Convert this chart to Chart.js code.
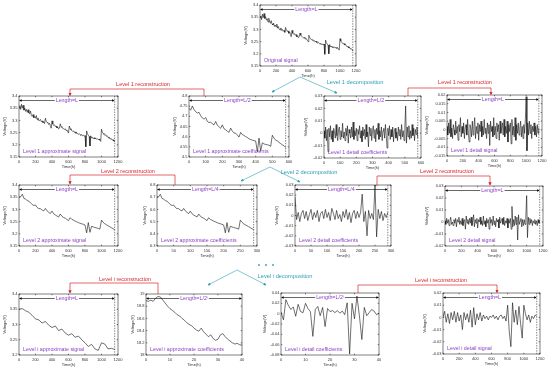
<!DOCTYPE html>
<html>
<head>
<meta charset="utf-8">
<script src="https://cdn.jsdelivr.net/npm/chart.js@4.4.1/dist/chart.umd.min.js"></script>
<style>
  html, body { margin: 0; padding: 0; background: #fff; }
  #page { position: relative; width: 550px; height: 368px; overflow: hidden; background: #fff;
          font-family: "Liberation Sans", Arial, sans-serif; }
  #page canvas { position: absolute; }
  #links { position: absolute; left: 0; top: 0; z-index: 5; }
  .note { position: absolute; white-space: nowrap; font-size: 11px; line-height: 11px;
          transform: translate(-50%, -50%) scale(0.5); z-index: 6; }
  .red { color: #d8262b; }
  .teal { color: #2c9fb4; font-size: 11.4px; }
</style>
</head>
<body>
<div id="page">

<svg id="links" width="550" height="368" viewBox="0 0 550 368">
  <defs>
    <marker id="redHead" viewBox="0 0 6 6" refX="5" refY="3" markerUnits="userSpaceOnUse" markerWidth="3.4" markerHeight="3.4" orient="auto">
      <path d="M0,0 L6,3 L0,6 z" fill="#d8262b"/>
    </marker>
    <marker id="tealHead" viewBox="0 0 6 6" refX="5" refY="3" markerUnits="userSpaceOnUse" markerWidth="3" markerHeight="3" orient="auto">
      <path d="M0,0 L6,3 L0,6 z" fill="#2c9fb4"/>
    </marker>
  </defs>
  <g fill="none" stroke="#d8262b" stroke-width="0.7">
    <path d="M204,96 V89 H70 V95.5" marker-end="url(#redHead)"/>
    <path d="M408,96 V88 H491 V94.5" marker-end="url(#redHead)"/>
    <path d="M175,185 V175 H70 V184" marker-end="url(#redHead)"/>
    <path d="M377,186 V176 H490 V185" marker-end="url(#redHead)"/>
    <path d="M158,294 V283 H70 V293" marker-end="url(#redHead)"/>
    <path d="M358,293 V285 H497 V292.5" marker-end="url(#redHead)"/>
  </g>
  <g fill="none" stroke="#2c9fb4" stroke-width="0.6">
    <path d="M300,77 L272,92" marker-end="url(#tealHead)"/>
    <path d="M300,77 L337,93" marker-end="url(#tealHead)"/>
    <path d="M270,167 L241,181" marker-end="url(#tealHead)"/>
    <path d="M270,167 L300,182" marker-end="url(#tealHead)"/>
    <path d="M237,270 L208,285" marker-end="url(#tealHead)"/>
    <path d="M237,270 L266,285" marker-end="url(#tealHead)"/>
  </g>
  <g fill="#2c9fb4">
    <circle cx="259" cy="265" r="0.9"/>
    <circle cx="266" cy="265" r="0.9"/>
    <circle cx="273" cy="265" r="0.9"/>
  </g>
</svg>

<div class="note red" style="left:143px;top:84px">Level 1 reconstruction</div>
<div class="note red" style="left:465px;top:82px">Level 1 reconstruction</div>
<div class="note red" style="left:128px;top:171px">Level 2 reconstruction</div>
<div class="note red" style="left:447px;top:171px">Level 2 reconstruction</div>
<div class="note red" style="left:125px;top:279px">Level i reconstruction</div>
<div class="note red" style="left:441px;top:280px">Level i reconstruction</div>
<div class="note teal" style="left:355px;top:82px">Level 1 decomposition</div>
<div class="note teal" style="left:309px;top:172px">Level 2 decomposition</div>
<div class="note teal" style="left:285px;top:276px">Level i decomposition</div>

</div>

<script>

/* =========================
DATA
========================= */

// original voltage, one value every 10 h
const ORIG = [
    3.350, 3.355, 3.340, 3.362, 3.348, 3.365, 3.345, 3.352, 3.338, 3.344,
    3.330, 3.346, 3.332, 3.325, 3.336, 3.322, 3.318, 3.326, 3.312, 3.318,
    3.310, 3.322, 3.305, 3.312, 3.300, 3.298, 3.306, 3.296, 3.300, 3.292,
    3.296, 3.288, 3.308, 3.298, 3.292, 3.294, 3.284, 3.290, 3.280, 3.270,
    3.296, 3.284, 3.280, 3.283, 3.276, 3.279, 3.270, 3.274, 3.266, 3.270,
    3.285, 3.276, 3.272, 3.270, 3.266, 3.264, 3.268, 3.260, 3.262, 3.256,
    3.250, 3.276, 3.268, 3.262, 3.260, 3.256, 3.258, 3.252, 3.254, 3.248,
    3.252, 3.246, 3.244, 3.247, 3.242, 3.240, 3.243, 3.238, 3.240, 3.236,
    3.240, 3.198, 3.256, 3.246, 3.240, 3.236, 3.200, 3.238, 3.228, 3.232,
    3.226, 3.230, 3.225, 3.228, 3.224, 3.226, 3.222, 3.225, 3.220, 3.215,
    3.262, 3.252, 3.248, 3.244, 3.240, 3.242, 3.236, 3.238, 3.232, 3.228,
    3.230, 3.224, 3.226, 3.220, 3.222, 3.216, 3.214
];

// level 1 approximate signal, every 10 h
const L1_APPROX_SIG = [
    3.352, 3.360, 3.345, 3.366, 3.350, 3.362, 3.342, 3.350, 3.337, 3.345,
    3.333, 3.344, 3.330, 3.327, 3.338, 3.320, 3.316, 3.324, 3.311, 3.316,
    3.309, 3.320, 3.303, 3.310, 3.299, 3.300, 3.304, 3.295, 3.298, 3.291,
    3.294, 3.287, 3.309, 3.296, 3.291, 3.292, 3.283, 3.288, 3.279, 3.268,
    3.298, 3.285, 3.279, 3.282, 3.275, 3.277, 3.269, 3.273, 3.265, 3.268,
    3.286, 3.275, 3.271, 3.269, 3.265, 3.263, 3.266, 3.259, 3.261, 3.255,
    3.248, 3.277, 3.266, 3.261, 3.259, 3.255, 3.257, 3.251, 3.253, 3.247,
    3.250, 3.245, 3.243, 3.246, 3.241, 3.239, 3.242, 3.237, 3.239, 3.235,
    3.238, 3.192, 3.257, 3.245, 3.239, 3.235, 3.195, 3.237, 3.227, 3.231,
    3.225, 3.229, 3.224, 3.227, 3.223, 3.225, 3.221, 3.224, 3.219, 3.214,
    3.264, 3.251, 3.247, 3.243, 3.239, 3.241, 3.235, 3.237, 3.231, 3.227,
    3.229, 3.223, 3.225, 3.219, 3.221, 3.215, 3.213
];

// level 1 approximate coefficients, every 10 samples
const L1_APPROX_COEF = [
    4.740, 4.730, 4.751, 4.734, 4.723, 4.716, 4.720, 4.703, 4.692, 4.686,
    4.694, 4.675, 4.669, 4.672, 4.663, 4.658, 4.675, 4.656, 4.649, 4.641,
    4.658, 4.639, 4.634, 4.627, 4.621, 4.642, 4.627, 4.618, 4.617, 4.608,
    4.598, 4.621, 4.610, 4.606, 4.600, 4.596, 4.589, 4.586, 4.583, 4.580,
    4.579, 4.525, 4.593, 4.529, 4.570, 4.564, 4.562, 4.560, 4.558, 4.552,
    4.607, 4.593, 4.583, 4.579, 4.572, 4.566, 4.560, 4.555, 4.546
];

// level 1 detail coefficients, every 5 samples
const L1_DETAIL_COEF = [
    0.002, -0.004, 0.005, -0.006, 0.003, -0.015, 0.004, -0.003, 0.006, -0.005,
    0.002, -0.007, 0.004, 0.001, -0.004, 0.007, -0.002, -0.006, 0.003, 0.005,
    -0.005, 0.002, -0.003, 0.008, -0.004, 0.001, -0.006, 0.004, -0.002, 0.006,
    -0.008, 0.003, 0.000, -0.004, 0.005, -0.003, 0.009, -0.005, 0.002, -0.002,
    0.004, -0.006, 0.003, -0.001, 0.006, -0.004, 0.002, -0.007, 0.005, -0.002,
    0.003, -0.005, 0.007, -0.003, 0.001, -0.011, 0.005, -0.002, 0.004, -0.006,
    0.002, 0.006, -0.004, 0.003, -0.007, 0.004, -0.001, 0.008, -0.005, 0.002,
    -0.003, 0.005, -0.006, 0.002, 0.004, -0.004, 0.007, -0.002, -0.012, 0.004,
    -0.002, 0.006, -0.005, 0.003, -0.003, 0.005, -0.007, 0.002, 0.004, -0.004,
    0.001, -0.006, 0.005, -0.002, 0.003, -0.005, 0.007, -0.003, 0.002, -0.006,
    0.004, 0.022, -0.008, 0.005, -0.003, 0.006, -0.005, 0.002, -0.004, 0.007,
    -0.002, 0.004, -0.006, 0.003, -0.001, 0.005, -0.004
];

// level 1 detail signal, every 10 h
const L1_DETAIL_SIG = [
    0.002, -0.003, 0.004, -0.002, 0.006, -0.004, 0.001, -0.005, 0.003, 0.000,
    -0.003, 0.005, -0.002, 0.002, -0.006, 0.003, -0.001, 0.007, -0.004, 0.002,
    -0.002, 0.004, -0.005, 0.001, 0.003, -0.003, 0.006, -0.002, -0.007, 0.003,
    0.001, -0.004, 0.005, -0.003, 0.002, 0.007, -0.005, 0.002, -0.002, 0.004,
    -0.006, 0.003, -0.001, 0.005, -0.004, 0.002, -0.003, 0.006, -0.002, 0.001,
    -0.005, 0.004, -0.002, 0.003, -0.009, 0.005, -0.001, 0.002, -0.004, 0.007,
    -0.003, 0.002, -0.005, 0.004, -0.001, 0.003, -0.006, 0.005, -0.002, 0.001,
    0.004, -0.003, 0.006, -0.004, 0.002, -0.002, 0.005, -0.007, 0.003, -0.001,
    0.004, -0.008, 0.006, -0.003, 0.002, -0.004, 0.007, -0.006, 0.003, -0.002,
    0.004, -0.003, 0.001, 0.005, -0.004, 0.002, -0.005, 0.003, -0.002, 0.006,
    0.019, -0.012, 0.004, -0.003, 0.005, -0.002, 0.003, -0.005, 0.002, -0.001,
    0.004, -0.003, 0.002, -0.004, 0.003, -0.002, 0.001
];

// level 2 approximate signal, every 20 h
const L2_APPROX_SIG = [
    3.350, 3.352, 3.362, 3.345, 3.342, 3.336, 3.334, 3.327, 3.320, 3.316,
    3.318, 3.308, 3.303, 3.303, 3.297, 3.294, 3.304, 3.294, 3.288, 3.283,
    3.293, 3.282, 3.277, 3.273, 3.269, 3.281, 3.272, 3.267, 3.264, 3.259,
    3.254, 3.266, 3.259, 3.256, 3.252, 3.249, 3.246, 3.243, 3.241, 3.239,
    3.236, 3.204, 3.246, 3.206, 3.231, 3.228, 3.226, 3.224, 3.222, 3.219,
    3.256, 3.247, 3.241, 3.237, 3.233, 3.229, 3.225, 3.221, 3.216
];

// level 2 approximate coefficients, every 5 samples
const L2_APPROX_COEF = [
    6.700, 6.704, 6.724, 6.690, 6.684, 6.672, 6.668, 6.654, 6.640, 6.632,
    6.636, 6.616, 6.606, 6.606, 6.594, 6.588, 6.608, 6.588, 6.576, 6.566,
    6.586, 6.564, 6.554, 6.546, 6.538, 6.562, 6.544, 6.534, 6.528, 6.518,
    6.508, 6.532, 6.518, 6.512, 6.504, 6.498, 6.492, 6.486, 6.482, 6.478,
    6.472, 6.408, 6.492, 6.412, 6.462, 6.456, 6.452, 6.448, 6.444, 6.438,
    6.512, 6.494, 6.482, 6.474, 6.466, 6.458, 6.450, 6.442, 6.432
];

// level 2 detail coefficients, every 5 samples
const L2_DETAIL_COEF = [
    0.018, -0.004, 0.003, -0.006, 0.002, 0.005, -0.003, 0.004, -0.005, 0.001,
    0.006, -0.004, 0.003, -0.002, 0.005, -0.006, 0.002, 0.004, -0.003, 0.006,
    -0.002, 0.003, -0.005, 0.007, 0.002, -0.004, 0.005, -0.003, 0.001, -0.006,
    0.004, -0.002, 0.006, -0.004, 0.003, -0.007, 0.002, 0.005, -0.003, 0.004,
    -0.002, 0.003, 0.021, -0.006, 0.004, -0.020, 0.005, -0.003, 0.002, -0.004,
    0.030, -0.021, 0.006, -0.003, 0.004, -0.005, 0.002, -0.002, 0.003
];

// level 2 detail signal, every 10 h
const L2_DETAIL_SIG = [
    0.001, -0.002, 0.003, -0.001, 0.002, -0.003, 0.001, 0.004, -0.002, 0.000,
    -0.003, 0.002, -0.001, 0.003, -0.004, 0.002, 0.000, 0.004, -0.002, 0.001,
    -0.002, 0.003, -0.003, 0.001, 0.002, -0.006, 0.005, -0.001, 0.002, -0.002,
    0.003, -0.001, 0.004, -0.003, 0.001, 0.006, -0.004, 0.002, -0.001, 0.003,
    -0.005, 0.002, 0.000, 0.004, -0.002, 0.001, -0.003, 0.005, -0.002, 0.001,
    -0.004, 0.003, -0.001, 0.002, -0.006, 0.004, -0.001, 0.002, -0.003, 0.005,
    -0.002, 0.001, -0.004, 0.003, 0.000, 0.002, -0.005, 0.004, -0.001, 0.001,
    0.003, -0.002, 0.004, -0.003, 0.001, -0.001, 0.003, -0.005, 0.002, -0.001,
    0.003, -0.006, 0.013, -0.004, 0.002, -0.003, 0.005, -0.002, 0.004, -0.015,
    0.006, -0.002, 0.001, 0.003, -0.004, 0.002, -0.003, 0.002, -0.002, 0.005,
    0.022, -0.013, 0.004, -0.002, 0.003, -0.001, 0.002, -0.003, 0.001, -0.001,
    0.002, -0.002, 0.001, -0.003, 0.002, -0.001, 0.001
];

// level i approximate signal, every 40 h
const LI_APPROX_SIG = [
    3.350, 3.352, 3.345, 3.340, 3.330, 3.318, 3.315, 3.305, 3.310, 3.298,
    3.290, 3.295, 3.280, 3.285, 3.272, 3.265, 3.270, 3.258, 3.262, 3.250,
    3.240, 3.228, 3.235, 3.220, 3.215, 3.240, 3.236, 3.220, 3.222, 3.218
];

// level i approximate coefficients, one per sample
const LI_APPROX_COEF = [
    18.89, 18.88, 18.90, 18.88, 18.93, 18.96, 18.95, 18.90, 18.85, 18.80,
    18.76, 18.73, 18.70, 18.66, 18.64, 18.60, 18.57, 18.53, 18.50, 18.48,
    18.44, 18.41, 18.39, 18.44, 18.38, 18.34, 18.30, 18.33, 18.27, 18.24,
    18.26, 18.33, 18.35, 18.30, 18.26, 18.23, 18.20, 18.18, 18.19, 18.17, 18.16
];

// level i detail coefficients, one per sample
const LI_DETAIL_COEF = [
    0.003, -0.012, 0.027, 0.016, 0.008, 0.013, -0.005, 0.018, 0.004, 0.002,
    0.020, 0.010, 0.004, -0.044, 0.008, 0.014, -0.004, 0.012, -0.025, 0.010,
    0.004, 0.006, 0.002, 0.006, 0.001, 0.005, -0.002, 0.021, -0.078, 0.020,
    -0.010, 0.034, -0.004, -0.050, 0.012, -0.004, 0.002, 0.008, 0.005, -0.002, 0.001
];

// level i detail signal, every 20 h
const LI_DETAIL_SIG = [
    0.000, 0.005, -0.004, 0.003, -0.005, 0.004, -0.002, 0.005, -0.004, 0.004,
    -0.003, 0.002, -0.010, 0.004, -0.002, 0.003, -0.004, 0.006, -0.008, 0.008,
    -0.006, 0.003, -0.002, 0.004, -0.003, 0.002, -0.001, 0.001, -0.002, 0.001,
    0.000, 0.002, -0.001, 0.001, -0.002, 0.001, 0.002, -0.001, 0.001, -0.003,
    0.010, -0.012, -0.024, 0.012, -0.004, 0.006, -0.006, 0.009, -0.005, -0.017,
    0.010, 0.003, -0.002, 0.002, -0.004, 0.001, -0.001, 0.002, 0.001
];

/* =========================
LAYOUT
========================= */

const PURPLE = "#8a40c4";
const FONT = "Liberation Sans";
const PAD_T = 4;
const PAD_R = 8;
const AXIS_H = 12;

const PANELS = [
    { series: ORIG, dt: 10, box: [260, 5, 356, 66], x: [0, 1200, 200], y: [3.15, 3.4, 0.05], axw: 17, len: "Length=L", lenTo: 1160, dash: true, name: "Original signal" },
    { series: L1_APPROX_SIG, dt: 10, box: [19, 96, 118, 157], x: [0, 1200, 200], y: [3.15, 3.4, 0.05], axw: 17, len: "Length=L", lenTo: 1160, dash: true, name: "Level 1 approximate signal" },
    { series: L1_APPROX_COEF, dt: 10, box: [189, 96, 289, 157], x: [0, 600, 100], y: [4.5, 4.8, 0.05], axw: 17, len: "Length=L/2", lenTo: 580, dash: true, name: "Level 1 approximate coefficients" },
    { series: L1_DETAIL_COEF, dt: 5, box: [324, 96, 421, 158], x: [0, 600, 100], y: [-0.02, 0.03, 0.01], axw: 21, len: "Length=L/2", lenTo: 580, dash: true, name: "Level 1 detail coefficients" },
    { series: L1_DETAIL_SIG, dt: 10, box: [447, 95, 542, 156], x: [0, 1200, 200], y: [-0.015, 0.02, 0.005], axw: 23, len: "Length=L", lenTo: 1160, dash: true, name: "Level 1 detail signal" },
    { series: L2_APPROX_SIG, dt: 20, box: [19, 185, 118, 246], x: [0, 1200, 200], y: [3.15, 3.4, 0.05], axw: 17, len: "Length=L", lenTo: 1160, dash: true, name: "Level 2 approximate signal" },
    { series: L2_APPROX_COEF, dt: 5, box: [157, 185, 257, 246], x: [0, 300, 50], y: [6.3, 6.8, 0.1], axw: 15, len: "Length=L/4", lenTo: 290, dash: true, name: "Level 2 approximate coefficients" },
    { series: L2_DETAIL_COEF, dt: 5, box: [295, 185, 391, 246], x: [0, 300, 50], y: [-0.03, 0.03, 0.01], axw: 21, len: "Length=L/4", lenTo: 290, dash: true, name: "Level 2 detail coefficients" },
    { series: L2_DETAIL_SIG, dt: 10, box: [445, 186, 543, 246], x: [0, 1200, 200], y: [-0.02, 0.03, 0.01], axw: 21, len: "Length=L", lenTo: 1160, dash: true, name: "Level 2 detail signal" },
    { series: LI_APPROX_SIG, dt: 40, box: [19, 294, 118, 355], x: [0, 1200, 200], y: [3.2, 3.4, 0.05], axw: 17, len: "Length=L", lenTo: 1160, dash: true, name: "Level i approximate signal" },
    { series: LI_APPROX_COEF, dt: 1, box: [146, 294, 242, 355], x: [0, 40, 10], y: [18, 19, 0.2], axw: 16, len: "Length=L/2\u2071", lenTo: 40, dash: false, name: "Level i approximate coefficients" },
    { series: LI_DETAIL_COEF, dt: 1, box: [281, 293, 379, 355], x: [0, 40, 10], y: [-0.08, 0.04, 0.02], axw: 19, len: "Length=L/2\u2071", lenTo: 40, dash: false, name: "Level i detail coefficients" },
    { series: LI_DETAIL_SIG, dt: 20, box: [443, 293, 540, 354], x: [0, 1200, 200], y: [-0.03, 0.02, 0.01], axw: 21, len: "Length=L", lenTo: 1160, dash: true, name: "Level i detail signal" }
];

/* =========================
PANEL DECORATION (box, length arrow, labels)
========================= */

function seg(ctx, x0, y0, x1, y1) {
    ctx.beginPath();
    ctx.moveTo(x0, y0);
    ctx.lineTo(x1, y1);
    ctx.stroke();
}

const panelDecor = {

    id: "panelDecor",

    afterDatasetsDraw(chart, args, opts) {

        const ctx = chart.ctx;
        const a = chart.chartArea;
        const xs = chart.scales.x;
        const ys = chart.scales.y;

        ctx.save();
        ctx.strokeStyle = "#000";
        ctx.fillStyle = "#000";
        ctx.lineWidth = 0.5;

        // dashed end-of-signal marker
        if (opts.dash) {
            const dx = xs.getPixelForValue(opts.lenTo);
            ctx.setLineDash([1.4, 1.2]);
            seg(ctx, dx, a.top, dx, a.bottom);
            ctx.setLineDash([]);
        }

        // axes box with inward ticks
        ctx.strokeRect(a.left, a.top, a.right - a.left, a.bottom - a.top);

        xs.ticks.forEach(t => {
            const px = xs.getPixelForValue(t.value);
            seg(ctx, px, a.bottom, px, a.bottom - 1.3);
            seg(ctx, px, a.top, px, a.top + 1.3);
        });

        ys.ticks.forEach(t => {
            const py = ys.getPixelForValue(t.value);
            seg(ctx, a.left, py, a.left + 1.3, py);
            seg(ctx, a.right, py, a.right - 1.3, py);
        });

        // length arrow
        const x0 = xs.getPixelForValue(0);
        const x1 = xs.getPixelForValue(opts.lenTo);
        const ly = a.top + 4.5;

        ctx.font = "5.3px " + FONT;
        const tw = ctx.measureText(opts.len).width;
        const mid = (x0 + x1) / 2;

        ctx.lineWidth = 0.6;
        seg(ctx, x0 + 2, ly, mid - tw / 2 - 1, ly);
        seg(ctx, mid + tw / 2 + 1, ly, x1 - 2, ly);

        ctx.beginPath();
        ctx.moveTo(x0, ly);
        ctx.lineTo(x0 + 2.6, ly - 1.3);
        ctx.lineTo(x0 + 2.6, ly + 1.3);
        ctx.closePath();
        ctx.fill();

        ctx.beginPath();
        ctx.moveTo(x1, ly);
        ctx.lineTo(x1 - 2.6, ly - 1.3);
        ctx.lineTo(x1 - 2.6, ly + 1.3);
        ctx.closePath();
        ctx.fill();

        ctx.fillStyle = PURPLE;
        ctx.textAlign = "center";
        ctx.textBaseline = "middle";
        ctx.fillText(opts.len, mid, ly + 0.3);

        // series name
        ctx.textAlign = "left";
        ctx.fillText(opts.name, a.left + 4, a.bottom - 5);

        ctx.restore();
    }

};

/* =========================
BUILD ONE PANEL
========================= */

function fmt(v) {
    return String(+v.toFixed(4));
}

function buildPanel(p) {

    const w = p.box[2] - p.box[0];
    const h = p.box[3] - p.box[1];

    const canvas = document.createElement("canvas");
    canvas.width = w + p.axw + PAD_R;
    canvas.height = h + PAD_T + AXIS_H;
    canvas.style.left = (p.box[0] - p.axw) + "px";
    canvas.style.top = (p.box[1] - PAD_T) + "px";
    document.getElementById("page").appendChild(canvas);

    const tickFont = { size: 4, family: FONT };

    return new Chart(canvas, {

        type: "line",

        data: {
            datasets: [
                {
                    data: p.series.map((v, i) => ({ x: i * p.dt, y: v })),
                    borderColor: "#111",
                    borderWidth: 0.6,
                    pointRadius: 0,
                    tension: 0,
                    fill: false
                }
            ]
        },

        options: {

            responsive: false,
            animation: false,
            events: [],

            layout: {
                padding: { top: PAD_T, right: PAD_R, left: 0, bottom: 0 }
            },

            plugins: {
                legend: { display: false },
                tooltip: { enabled: false },
                panelDecor: { len: p.len, lenTo: p.lenTo, dash: p.dash, name: p.name }
            },

            scales: {

                x: {
                    type: "linear",
                    min: p.x[0],
                    max: p.x[1],
                    afterFit: s => { s.height = AXIS_H; },
                    grid: { display: false, drawTicks: false },
                    border: { display: false },
                    ticks: {
                        stepSize: p.x[2],
                        autoSkip: false,
                        maxRotation: 0,
                        padding: 2.5,
                        color: "#333",
                        font: tickFont,
                        callback: v => fmt(v)
                    },
                    title: {
                        display: true,
                        text: "Time(h)",
                        color: "#333",
                        font: tickFont,
                        padding: 0
                    }
                },

                y: {
                    min: p.y[0],
                    max: p.y[1],
                    afterFit: s => { s.width = p.axw; },
                    grid: { display: false, drawTicks: false },
                    border: { display: false },
                    ticks: {
                        stepSize: p.y[2],
                        padding: 1.5,
                        color: "#333",
                        font: tickFont,
                        callback: v => fmt(v)
                    },
                    title: {
                        display: true,
                        text: "Voltage(V)",
                        color: "#333",
                        font: tickFont,
                        padding: 0
                    }
                }

            }

        },

        plugins: [panelDecor]

    });

}

/* =========================
INITIALIZE
========================= */

Chart.defaults.font.family = FONT;

PANELS.forEach(p => buildPanel(p));

</script>
</body>
</html>
